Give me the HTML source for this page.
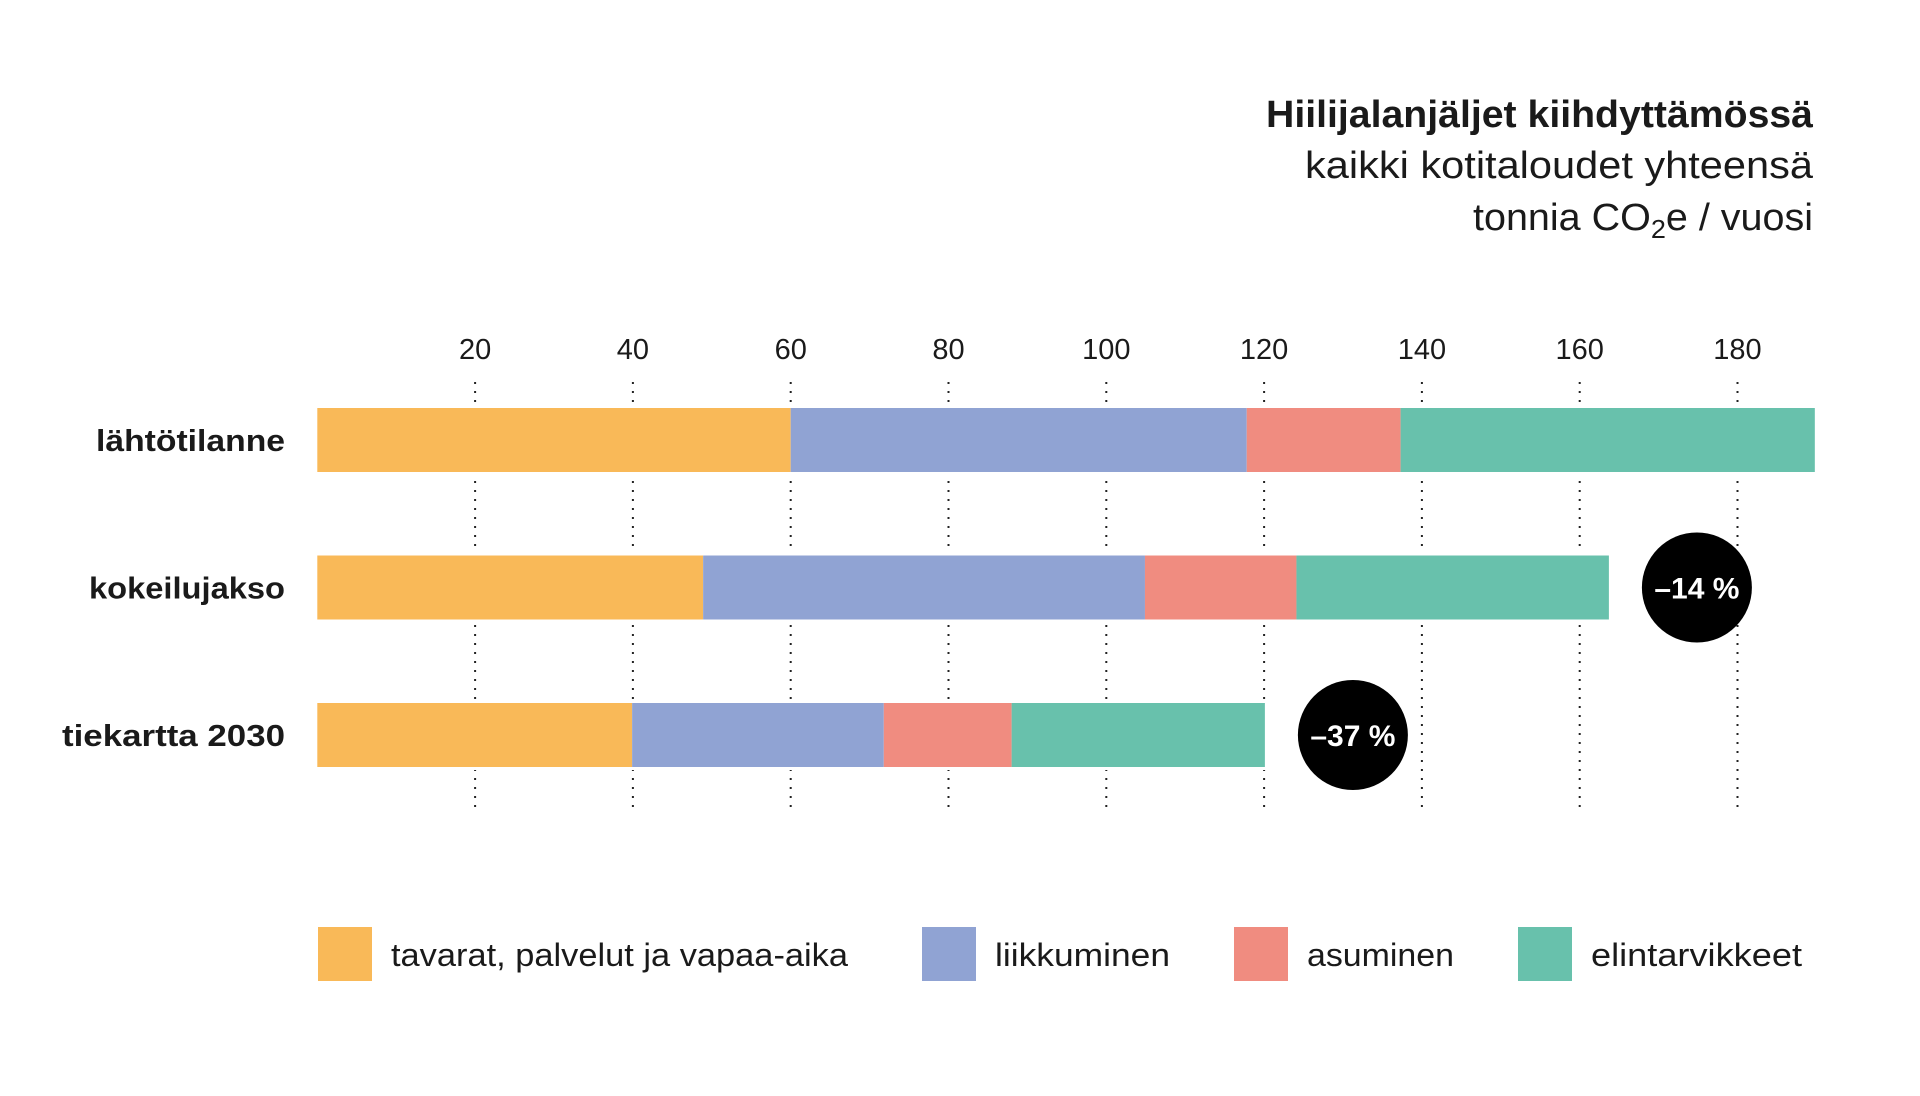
<!DOCTYPE html>
<html><head><meta charset="utf-8"><style>
html,body{margin:0;padding:0;background:#fff;}
svg{display:block;font-family:"Liberation Sans",sans-serif;}
</style></head><body>
<svg id="chart" width="1920" height="1096" viewBox="0 0 1920 1096">
<g fill="#1a1a1a" text-anchor="end">
<text x="1813" y="127" font-size="38" font-weight="bold" textLength="547" lengthAdjust="spacingAndGlyphs">Hiilijalanjäljet kiihdyttämössä</text>
<text x="1813" y="178" font-size="38" textLength="508" lengthAdjust="spacingAndGlyphs">kaikki kotitaloudet yhteensä</text>
<text x="1813" y="230" font-size="38" textLength="340" lengthAdjust="spacingAndGlyphs">tonnia CO<tspan font-size="26" dy="8">2</tspan><tspan dy="-8">e / vuosi</tspan></text>
</g>
<g id="grid"></g>
<g id="ticks"></g>
<g id="bars"></g>
<g id="cats"></g>
<g id="badges"></g>
<g id="legend"></g>
</svg>
<script>
const categories = ["lähtötilanne","kokeilujakso","tiekartta 2030"];
const seriesNames = ["tavarat, palvelut ja vapaa-aika","liikkuminen","asuminen","elintarvikkeet"];
const goods = [60, 48.9, 39.9];
const mobility = [57.8, 56, 31.9];
const housing = [19.5, 19.2, 16.2];
const food = [52.5, 39.6, 32.1];
const ticks = [20,40,60,80,100,120,140,160,180];
const badgeLabels = [null, "–14 %", "–37 %"];
const colors = ["#F9B958","#90A3D3","#F08C80","#68C1AC"];
const NS="http://www.w3.org/2000/svg";
const x0=317.3, pxPerUnit=7.89;
const xs = v => x0 + v*pxPerUnit;
const rowY = i => 408 + i*147.5;
const barH = 64;
const catWidths=[189,196,223];
function mk(tag, attrs, parent){const e=document.createElementNS(NS,tag);for(const k in attrs)e.setAttribute(k,attrs[k]);parent.appendChild(e);return e;}
const grid=document.getElementById('grid'), tk=document.getElementById('ticks');
ticks.forEach(t=>{
  const l=mk('line',{x1:xs(t),x2:xs(t),y1:382,y2:812,stroke:'#222','stroke-width':2,'stroke-dasharray':'2 7'},grid);
  
  
  const tx=mk('text',{x:xs(t),y:359,'font-size':29,'text-anchor':'middle',fill:'#1a1a1a'},tk);
  tx.textContent=t;
  
  
});
const bars=document.getElementById('bars'), cats=document.getElementById('cats'), badges=document.getElementById('badges');
const series=[goods,mobility,housing,food];
categories.forEach((c,i)=>{
  const y=rowY(i);
  mk('rect',{x:x0-2,y:y-3,width:xs(goods[i]+mobility[i]+housing[i]+food[i])-x0+4,height:barH+6,fill:'#fff'},bars);
  let acc=0;
  series.forEach((s,j)=>{
    const r=mk('rect',{x:xs(acc),y:y,width:s[i]*pxPerUnit,height:barH,fill:colors[j]},bars);
    
    
    acc+=s[i];
  });
  const t=mk('text',{x:285,y:y+43,'font-size':31,'font-weight':'bold','text-anchor':'end',fill:'#1a1a1a',textLength:catWidths[i],lengthAdjust:'spacingAndGlyphs'},cats);
  t.textContent=c;
  
  
  if(badgeLabels[i]){
    const cx=xs(acc)+88;
    const g=mk('g',{},badges);
    
    
    mk('circle',{cx:cx,cy:y+barH/2,r:55,fill:'#000'},g);
    const bt=mk('text',{x:cx,y:y+barH/2+11,'font-size':30,'font-weight':'bold','text-anchor':'middle',fill:'#fff'},g);
    bt.textContent=badgeLabels[i];
  }
});
const lg=document.getElementById('legend');
const lx=[318,922,1234,1518], lw=[457,175,147,211];
seriesNames.forEach((n,j)=>{
  const g=mk('g',{},lg);
  
  
  mk('rect',{x:lx[j],y:927,width:54,height:54,fill:colors[j]},g);
  const t=mk('text',{x:lx[j]+73,y:966,'font-size':32,fill:'#1a1a1a',textLength:lw[j],lengthAdjust:'spacingAndGlyphs'},g);
  t.textContent=n;
});
</script>
</body></html>
